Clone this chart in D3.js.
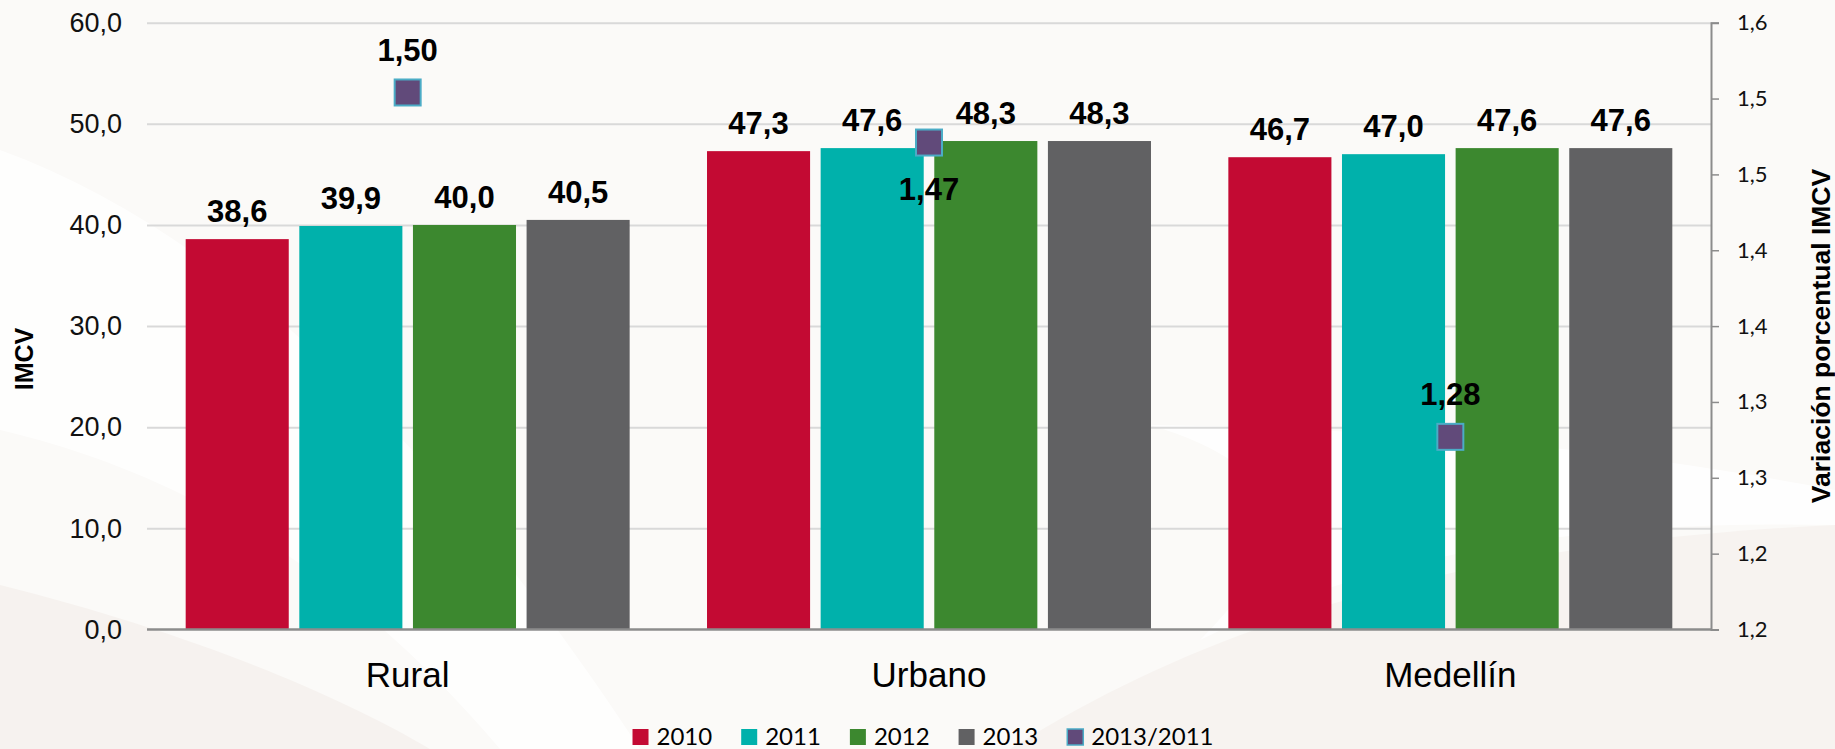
<!DOCTYPE html>
<html>
<head>
<meta charset="utf-8">
<script src="https://cdn.jsdelivr.net/npm/d3@7"></script>
<style>
  html, body { margin: 0; padding: 0; background: #fbfaf8; }
  svg { display: block; }
</style>
</head>
<body>
<svg id="chart" width="1835" height="749"></svg>
<script>
// ---------- DATA ----------
const categories = ["Rural", "Urbano", "Medellín"];
const seriesNames = ["2010", "2011", "2012", "2013"];
const values2010 = [38.6, 47.3, 46.7];
const values2011 = [39.9, 47.6, 47.0];
const values2012 = [40.0, 48.3, 47.6];
const values2013 = [40.5, 48.3, 47.6];
const ratioName = "2013/2011";
const ratioValues = [1.504, 1.471, 1.277];
const leftTicks = [0, 10, 20, 30, 40, 50, 60];
const rightTicks = [1.15, 1.20, 1.25, 1.30, 1.35, 1.40, 1.45, 1.50, 1.55];
const rightTickLabels = ["1,2", "1,2", "1,3", "1,3", "1,4", "1,4", "1,5", "1,5", "1,6"];
const leftTitle = "IMCV";
const rightTitle = "Variación porcentual IMCV";

// ---------- STYLE ----------
const colors = { "2010": "#c30a33", "2011": "#00b1ab", "2012": "#3c882f", "2013": "#616163" };
const markerFill = "#614a7a", markerStroke = "#4bacc6";
const ratioLabelPlacement = ["above", "below", "above"];
const seriesValues = [values2010, values2011, values2012, values2013];

const locale = d3.formatLocale({ decimal: ",", thousands: ".", grouping: [3], currency: ["$", ""] });
const f1 = locale.format(".1f");
const f2 = locale.format(".2f");

const svg = d3.select("#chart");
const W = 1835, H = 749;
const plot = { left: 147, right: 1711, top: 22.7, bottom: 629.5 };

// ---------- BACKGROUND ----------
const bg = svg.append("g");
bg.append("rect").attr("width", W).attr("height", H).attr("fill", "#fbfaf8");
bg.append("path")
  .attr("d", "M0,150 C220,230 430,430 640,749 L500,749 C340,560 170,470 0,430 Z")
  .attr("fill", "#ffffff").attr("opacity", 0.75);
bg.append("path")
  .attr("d", "M0,585 C180,630 330,690 430,749 L0,749 Z")
  .attr("fill", "#f6f2ef");
bg.append("path")
  .attr("d", "M1010,749 C1230,610 1500,540 1835,525 L1835,749 Z")
  .attr("fill", "#f7f3f0");
bg.append("path")
  .attr("d", "M1150,425 C1450,430 1650,455 1835,490 L1835,525 C1600,520 1400,545 1200,640 C1300,540 1300,470 1150,425 Z")
  .attr("fill", "#ffffff").attr("opacity", 0.8);

// ---------- SCALES ----------
const x0 = d3.scaleBand().domain(categories).range([plot.left, plot.right]).padding(0);
const groupPad = x0.bandwidth() * 0.0742;
const x1 = d3.scaleBand().domain(seriesNames)
  .range([groupPad, x0.bandwidth() - groupPad]).paddingInner(0.093).paddingOuter(0);
const yL = d3.scaleLinear().domain([0, 60]).range([plot.bottom, plot.top]);
const yR = d3.scaleLinear().domain([1.15, 1.55]).range([plot.bottom, plot.top]);

// ---------- GRID ----------
svg.append("g")
  .attr("transform", `translate(${plot.left},0)`)
  .call(d3.axisLeft(yL).tickValues(leftTicks.slice(1)).tickSize(-(plot.right - plot.left)).tickFormat(""))
  .call(g => g.select(".domain").remove())
  .call(g => g.selectAll("line").attr("stroke", "#d9d9d9").attr("stroke-width", 2));

// Left tick labels
svg.append("g")
  .attr("transform", `translate(${plot.left},0)`)
  .call(d3.axisLeft(yL).tickValues(leftTicks).tickSize(0).tickPadding(25).tickFormat(f1))
  .call(g => g.select(".domain").remove())
  .call(g => g.selectAll("text")
    .attr("font-family", "'Liberation Sans', Arial, sans-serif")
    .attr("font-size", 27).attr("fill", "#111"));

// ---------- BARS ----------
const groups = svg.append("g").selectAll("g").data(categories).join("g")
  .attr("transform", d => `translate(${x0(d)},0)`);

groups.selectAll("rect")
  .data((c, ci) => seriesNames.map((s, si) => ({ s, v: seriesValues[si][ci] })))
  .join("rect")
  .attr("x", d => x1(d.s))
  .attr("width", x1.bandwidth())
  .attr("y", d => yL(d.v))
  .attr("height", d => yL(0) - yL(d.v))
  .attr("fill", d => colors[d.s]);

groups.selectAll("text.val")
  .data((c, ci) => seriesNames.map((s, si) => ({ s, v: seriesValues[si][ci] })))
  .join("text").attr("class", "val")
  .attr("x", d => x1(d.s) + x1.bandwidth() / 2)
  .attr("y", d => yL(d.v) - 17)
  .attr("text-anchor", "middle")
  .attr("font-family", "'Liberation Sans', Arial, sans-serif")
  .attr("font-weight", "bold").attr("font-size", 31).attr("fill", "#000")
  .text(d => f1(d.v));

// ---------- AXES LINES ----------
svg.append("line")
  .attr("x1", plot.left).attr("x2", plot.right)
  .attr("y1", yL(0)).attr("y2", yL(0))
  .attr("stroke", "#8c8c8c").attr("stroke-width", 2.5);

const rAxis = svg.append("g")
  .attr("transform", `translate(${plot.right},0)`)
  .call(d3.axisRight(yR).tickValues(rightTicks).tickSize(8).tickPadding(18)
    .tickFormat((d, i) => rightTickLabels[i]));
rAxis.select(".domain").attr("stroke", "#8c8c8c").attr("stroke-width", 2);
rAxis.selectAll("line").attr("stroke", "#8c8c8c").attr("stroke-width", 1.5);
rAxis.selectAll("text")
  .attr("font-family", "Lato, 'Open Sans', sans-serif")
  .attr("font-size", 22).attr("fill", "#111");

// Category labels
svg.append("g").selectAll("text").data(categories).join("text")
  .attr("x", d => x0(d) + x0.bandwidth() / 2)
  .attr("y", 687)
  .attr("text-anchor", "middle")
  .attr("font-family", "'Liberation Sans', Arial, sans-serif")
  .attr("font-size", 35).attr("fill", "#000")
  .text(d => d);

// ---------- RATIO MARKERS ----------
const ms = 26;
const mk = svg.append("g");
mk.selectAll("rect").data(categories).join("rect")
  .attr("x", d => x0(d) + x0.bandwidth() / 2 - ms / 2)
  .attr("y", (d, i) => yR(ratioValues[i]) - ms / 2)
  .attr("width", ms).attr("height", ms)
  .attr("fill", markerFill).attr("stroke", markerStroke).attr("stroke-width", 2);
mk.selectAll("text").data(categories).join("text")
  .attr("x", d => x0(d) + x0.bandwidth() / 2)
  .attr("y", (d, i) => yR(ratioValues[i]) + (ratioLabelPlacement[i] === "above" ? -31.5 : 57))
  .attr("text-anchor", "middle")
  .attr("font-family", "'Liberation Sans', Arial, sans-serif")
  .attr("font-weight", "bold").attr("font-size", 31).attr("fill", "#000")
  .text((d, i) => f2(ratioValues[i]));

// ---------- AXIS TITLES ----------
svg.append("text")
  .attr("transform", "translate(33,359) rotate(-90)")
  .attr("text-anchor", "middle")
  .attr("font-family", "'Liberation Sans', Arial, sans-serif")
  .attr("font-weight", "bold").attr("font-size", 25).attr("fill", "#000")
  .text(leftTitle);
svg.append("text")
  .attr("transform", "translate(1830,336) rotate(-90)")
  .attr("text-anchor", "middle")
  .attr("font-family", "'Liberation Sans', Arial, sans-serif")
  .attr("font-weight", "bold").attr("font-size", 26.5).attr("fill", "#000")
  .text(rightTitle);

// ---------- LEGEND ----------
const legendItems = seriesNames.map(s => ({ name: s, fill: colors[s], stroke: null }))
  .concat([{ name: ratioName, fill: markerFill, stroke: markerStroke }]);
const lg = svg.append("g");
let cx = 0;
const itemsG = lg.selectAll("g").data(legendItems).join("g");
itemsG.append("rect")
  .attr("x", 0).attr("y", -16).attr("width", 16).attr("height", 16)
  .attr("fill", d => d.fill)
  .attr("stroke", d => d.stroke || "none").attr("stroke-width", 1.5);
itemsG.append("text")
  .attr("x", 24).attr("y", 0)
  .attr("font-family", "Lato, 'Open Sans', sans-serif")
  .attr("font-size", 24).attr("fill", "#000")
  .text(d => d.name);
itemsG.each(function () {
  const w = d3.select(this).select("text").node().getComputedTextLength();
  d3.select(this).attr("transform", `translate(${cx},0)`);
  cx += 24 + w + 29;
});
const totalW = cx - 29;
lg.attr("transform", `translate(${923 - totalW / 2},745)`);
</script>
</body>
</html>
